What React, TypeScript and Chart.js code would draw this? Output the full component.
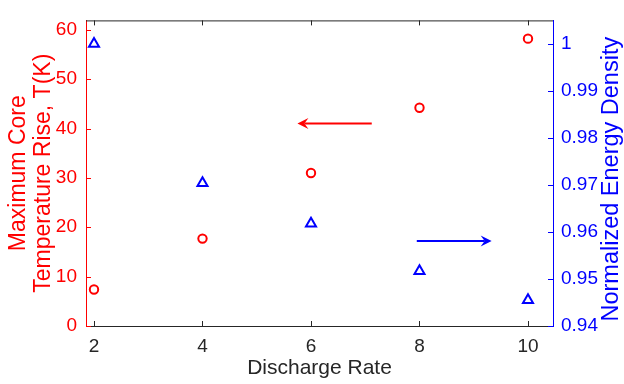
import React, { useEffect, useRef } from "react";
import { Chart, registerables } from "chart.js";

Chart.register(...registerables);

const dischargeRates = [2, 4, 6, 8, 10];
const maxTempRise = [7.4, 17.7, 31.0, 44.2, 58.2];
const normEnergyDensity = [1.0, 0.9704, 0.9618, 0.9517, 0.9455];

const xTicks = [2, 4, 6, 8, 10];
const leftTicks = [0, 10, 20, 30, 40, 50, 60];
const rightTicks = [0.94, 0.95, 0.96, 0.97, 0.98, 0.99, 1];

const redArrowX = [7.12, 5.75];
const redArrowY = [41.0, 41.0];
const blueArrowX = [7.95, 9.33];
const blueArrowY = [0.9581, 0.9581];

const rightTitle = "Normalized Energy Density";

const RED = "#ff0000";
const BLUE = "#0000ff";
const DARK = "#262626";
const FONT = "'Liberation Sans', Arial, sans-serif";

function drawArrow(ctx: CanvasRenderingContext2D, x1: number, y1: number, x2: number, y2: number, color: string) {
  const ang = Math.atan2(y2 - y1, x2 - x1);
  const headLen = 11;
  const headW = 5.5;
  const notch = 7;
  ctx.save();
  ctx.strokeStyle = color;
  ctx.fillStyle = color;
  ctx.lineWidth = 2;
  ctx.beginPath();
  ctx.moveTo(x1, y1);
  ctx.lineTo(x2 - Math.cos(ang) * notch, y2 - Math.sin(ang) * notch);
  ctx.stroke();
  ctx.translate(x2, y2);
  ctx.rotate(ang);
  ctx.beginPath();
  ctx.moveTo(0, 0);
  ctx.lineTo(-headLen, -headW);
  ctx.lineTo(-notch, 0);
  ctx.lineTo(-headLen, headW);
  ctx.closePath();
  ctx.fill();
  ctx.restore();
}

const decorPlugin = {
  id: "decor",
  afterDatasetsDraw(chart: any) {
    const { ctx, chartArea, scales } = chart;
    const { left, right, top, bottom } = chartArea;
    const tl = 5;
    ctx.save();
    ctx.lineWidth = 1;
    ctx.strokeStyle = DARK;
    ctx.beginPath();
    ctx.moveTo(left, top + 0.5);
    ctx.lineTo(right, top + 0.5);
    ctx.stroke();
    for (const v of xTicks) {
      const px = Math.round(scales.x.getPixelForValue(v)) + 0.5;
      ctx.beginPath();
      ctx.moveTo(px, bottom);
      ctx.lineTo(px, bottom - tl);
      ctx.moveTo(px, top);
      ctx.lineTo(px, top + tl);
      ctx.stroke();
    }
    ctx.strokeStyle = RED;
    for (const v of leftTicks) {
      const py = Math.round(scales.y.getPixelForValue(v)) + 0.5;
      ctx.beginPath();
      ctx.moveTo(left, py);
      ctx.lineTo(left + tl, py);
      ctx.stroke();
    }
    ctx.strokeStyle = BLUE;
    for (const v of rightTicks) {
      const py = Math.round(scales.y1.getPixelForValue(v)) + 0.5;
      ctx.beginPath();
      ctx.moveTo(right, py);
      ctx.lineTo(right - tl, py);
      ctx.stroke();
    }
    // right axis title, reading bottom-to-top
    ctx.translate(612, (top + bottom) / 2 + 6);
    ctx.rotate(-Math.PI / 2);
    ctx.fillStyle = BLUE;
    ctx.font = `23.5px ${FONT}`;
    ctx.textAlign = "center";
    ctx.textBaseline = "middle";
    ctx.fillText(rightTitle, 0, 0);
    ctx.restore();

    drawArrow(
      ctx,
      scales.x.getPixelForValue(redArrowX[0]),
      scales.y.getPixelForValue(redArrowY[0]),
      scales.x.getPixelForValue(redArrowX[1]),
      scales.y.getPixelForValue(redArrowY[1]),
      RED
    );
    drawArrow(
      ctx,
      scales.x.getPixelForValue(blueArrowX[0]),
      scales.y1.getPixelForValue(blueArrowY[0]),
      scales.x.getPixelForValue(blueArrowX[1]),
      scales.y1.getPixelForValue(blueArrowY[1]),
      BLUE
    );
  },
};

export default function App() {
  const canvasRef = useRef<HTMLCanvasElement | null>(null);

  useEffect(() => {
    document.body.style.margin = "0";
    const canvas = canvasRef.current;
    if (!canvas) return;
    const chart = new Chart(canvas, {
      type: "scatter",
      data: {
        datasets: [
          {
            label: "Maximum Core Temperature Rise",
            data: dischargeRates.map((x, i) => ({ x, y: maxTempRise[i] })),
            yAxisID: "y",
            pointStyle: "circle",
            pointRadius: 4.2,
            pointBorderWidth: 2,
            borderColor: RED,
            backgroundColor: "rgba(0,0,0,0)",
            showLine: false,
          },
          {
            label: "Normalized Energy Density",
            data: dischargeRates.map((x, i) => ({ x, y: normEnergyDensity[i] })),
            yAxisID: "y1",
            pointStyle: "triangle",
            pointRadius: 5.8,
            pointBorderWidth: 2,
            borderColor: BLUE,
            backgroundColor: "rgba(0,0,0,0)",
            showLine: false,
          },
        ],
      },
      options: {
        animation: false,
        responsive: false,
        maintainAspectRatio: false,
        layout: { padding: { top: 14, left: 0, right: 0, bottom: 0 } },
        plugins: {
          legend: { display: false },
          tooltip: { enabled: false },
        },
        scales: {
          x: {
            type: "linear",
            min: 1.8525,
            max: 10.461,
            grid: { display: false, drawTicks: false },
            border: { display: true, color: DARK, width: 1 },
            afterBuildTicks: (scale: any) => {
              scale.ticks = xTicks.map((v) => ({ value: v }));
            },
            afterFit: (scale: any) => {
              scale.height = 58;
            },
            ticks: {
              color: DARK,
              padding: 9,
              maxRotation: 0,
              font: { family: FONT, size: 19 },
              callback: (v: any) => String(v),
            },
            title: {
              display: true,
              text: "Discharge Rate",
              color: DARK,
              font: { family: FONT, size: 21, lineHeight: 1.2 },
              padding: { top: 0, bottom: 3 },
            },
          },
          y: {
            type: "linear",
            position: "left",
            min: 0,
            max: 61.9,
            grid: { display: false, drawTicks: false },
            border: { display: true, color: RED, width: 1 },
            afterBuildTicks: (scale: any) => {
              scale.ticks = leftTicks.map((v) => ({ value: v }));
            },
            afterFit: (scale: any) => {
              scale.width = 86;
            },
            ticks: {
              color: RED,
              padding: 9,
              font: { family: FONT, size: 19 },
              callback: (v: any) => String(v),
            },
            title: {
              display: true,
              text: ["Maximum Core", "Temperature Rise, T(K)"],
              color: RED,
              font: { family: FONT, size: 23, lineHeight: 1.05 },
              padding: { top: 7, bottom: 0 },
            },
          },
          y1: {
            type: "linear",
            position: "right",
            min: 0.94,
            max: 1.005,
            grid: { display: false, drawTicks: false },
            border: { display: true, color: BLUE, width: 1 },
            afterBuildTicks: (scale: any) => {
              scale.ticks = rightTicks.map((v) => ({ value: v }));
            },
            afterFit: (scale: any) => {
              scale.width = 71;
            },
            ticks: {
              color: BLUE,
              padding: 8,
              font: { family: FONT, size: 19 },
              callback: (v: any) => String(Number(Number(v).toFixed(2))),
            },
            title: { display: false },
          },
        },
      },
      plugins: [decorPlugin],
    });
    return () => chart.destroy();
  }, []);

  return (
    <div style={{ width: 624, height: 384, background: "#fff" }}>
      <canvas ref={canvasRef} width={624} height={384} style={{ display: "block" }} />
    </div>
  );
}
